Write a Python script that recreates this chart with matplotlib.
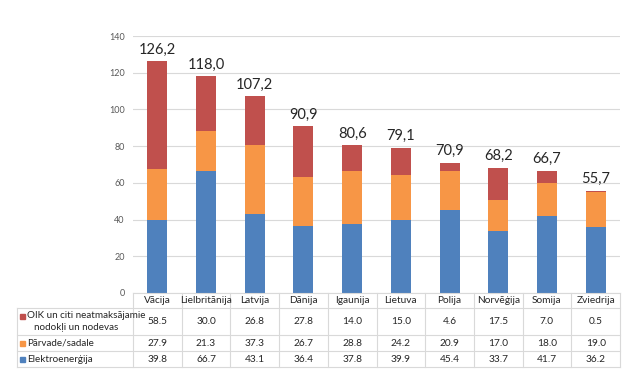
import matplotlib
matplotlib.use("Agg")
import matplotlib.pyplot as plt
from matplotlib.transforms import blended_transform_factory
from matplotlib.lines import Line2D
from matplotlib.patches import Rectangle
import numpy as np

countries = ["Vācija", "Lielbritānija", "Latvija", "Dānija", "Igaunija",
             "Lietuva", "Polija", "Norvēģija", "Somija", "Zviedrija"]
elektro = [39.8, 66.7, 43.1, 36.4, 37.8, 39.9, 45.4, 33.7, 41.7, 36.2]
parvade = [27.9, 21.3, 37.3, 26.7, 28.8, 24.2, 20.9, 17.0, 18.0, 19.0]
oik = [58.5, 30.0, 26.8, 27.8, 14.0, 15.0, 4.6, 17.5, 7.0, 0.5]
totals = ["126,2", "118,0", "107,2", "90,9", "80,6", "79,1", "70,9", "68,2", "66,7", "55,7"]
yticks = [0, 20, 40, 60, 80, 100, 120, 140]

series_labels = ["OIK un citi neatmaksājamie\nnodokļi un nodevas", "Pārvade/sadale", "Elektroenerģija"]
c_red, c_orange, c_blue = "#C0504D", "#F79646", "#4F81BD"

plt.rcParams['font.family'] = ['Lato', 'DejaVu Sans']

W, H = 622, 378
fig = plt.figure(figsize=(W / 100, H / 100), dpi=100)

def fx(px):
    return px / W

def fy(py):
    return 1 - py / H

ax_l, ax_r, ax_t, ax_b = 133, 620, 36, 293
ax = fig.add_axes([fx(ax_l), fy(ax_b), fx(ax_r - ax_l), fy(ax_t) - fy(ax_b)])

x = np.arange(len(countries))
bw = 0.41
e = np.array(elektro)
p = np.array(parvade)
o = np.array(oik)
ax.bar(x, e, bw, color=c_blue, zorder=3)
ax.bar(x, p, bw, bottom=e, color=c_orange, zorder=3)
ax.bar(x, o, bw, bottom=e + p, color=c_red, zorder=3)
for i, t in enumerate(totals):
    ax.text(x[i], e[i] + p[i] + o[i] + 2.5, t, ha='center', va='bottom',
            fontsize=10.5, color='#262626')

ax.set_xlim(-0.5, len(countries) - 0.5)
ax.set_ylim(0, 140)
ax.set_yticks(yticks)
ax.set_yticklabels([str(v) for v in yticks], fontsize=6.5, color='#595959')
ax.set_xticks([])
ax.tick_params(axis='y', length=0, pad=6)
ax.grid(axis='y', color='#D9D9D9', linewidth=0.8, zorder=0)
for s in ax.spines.values():
    s.set_visible(False)

# Data table below
tr = blended_transform_factory(ax.transData, fig.transFigure)
gcol = '#D9D9D9'
row_y = [293, 308, 335, 351, 367]
tab_l = 17
fig.add_artist(Line2D([fx(ax_l), fx(ax_r)], [fy(row_y[0])] * 2, color=gcol, lw=0.8))
for yy in row_y[1:]:
    fig.add_artist(Line2D([fx(tab_l), fx(ax_r)], [fy(yy)] * 2, color=gcol, lw=0.8))
fig.add_artist(Line2D([fx(tab_l)] * 2, [fy(row_y[1]), fy(row_y[-1])], color=gcol, lw=0.8))
for k in range(len(countries) + 1):
    xx = k - 0.5
    fig.add_artist(Line2D([xx, xx], [fy(row_y[0]), fy(row_y[-1])], color=gcol, lw=0.8,
                          transform=tr))

fs = 7.3
tc = '#262626'
for i, c in enumerate(countries):
    fig.text(x[i], fy((row_y[0] + row_y[1]) / 2), c, transform=tr, ha='center',
             va='center', fontsize=fs, color=tc)
rows = [oik, parvade, elektro]
for r, vals in enumerate(rows):
    ymid = fy((row_y[r + 1] + row_y[r + 2]) / 2)
    for i, v in enumerate(vals):
        fig.text(x[i], ymid, f"{v:.1f}", transform=tr, ha='center', va='center',
                 fontsize=fs, color=tc)

key_colors = [c_red, c_orange, c_blue]
ks = 5
lfs = 7.1
y1 = fy(316)
fig.add_artist(Rectangle((fx(20), y1 - ks / 2 / H), ks / W, ks / H, color=c_red))
fig.text(fx(27), y1, series_labels[0].split("\n")[0], ha='left', va='center', fontsize=lfs, color=tc)
fig.text(fx(76), fy(328), series_labels[0].split("\n")[1], ha='center', va='center', fontsize=lfs, color=tc)
for r in (1, 2):
    ymid = fy((row_y[r + 1] + row_y[r + 2]) / 2)
    fig.add_artist(Rectangle((fx(20), ymid - ks / 2 / H), ks / W, ks / H, color=key_colors[r]))
    fig.text(fx(27), ymid, series_labels[r], ha='left', va='center', fontsize=lfs, color=tc)

fig.savefig("out.png", dpi=100)
